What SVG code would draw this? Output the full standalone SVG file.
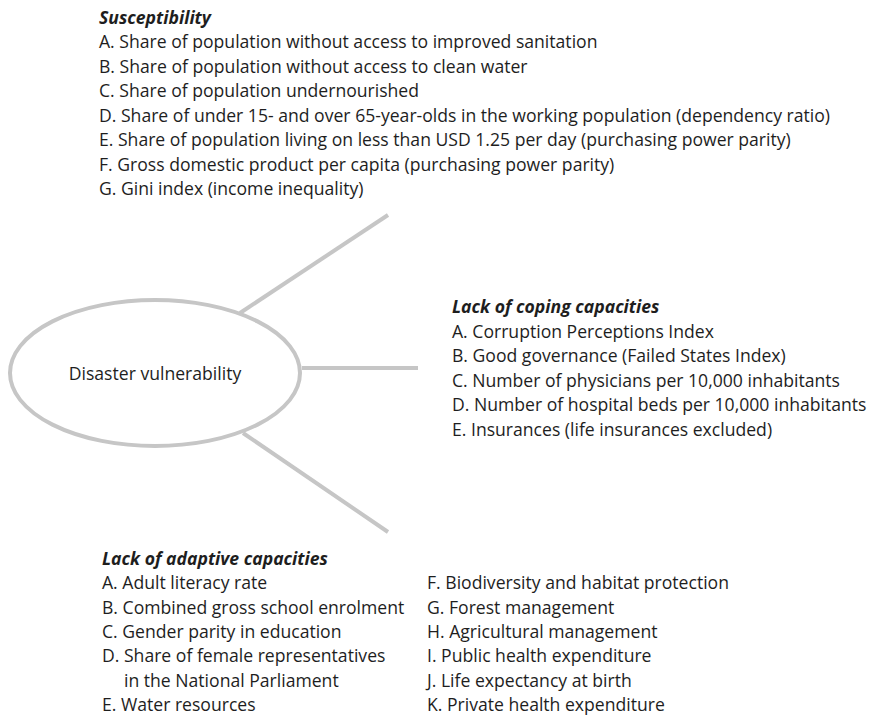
<svg xmlns="http://www.w3.org/2000/svg" width="870" height="716" viewBox="0 0 870 716">
<style>
text{font-family:"Open Sans","Liberation Sans",Arial,sans-serif;font-size:17.6px;fill:#1e1e1e}
.h{font-weight:bold;font-style:italic}
.c{stroke:#c6c6c6;stroke-width:4;fill:none;stroke-linecap:butt}
</style>
<rect width="870" height="716" fill="#fff"/>
<g id="connectors">
<line class="c" x1="240" y1="313" x2="388" y2="215"/>
<line class="c" x1="302" y1="368" x2="418" y2="368"/>
<line class="c" x1="243" y1="433" x2="388" y2="532"/>
</g>
<g id="disaster-vulnerability">
<ellipse class="c" cx="155" cy="373" rx="145" ry="73"/>
<text x="155" y="380" text-anchor="middle">Disaster vulnerability</text>
</g>
<g id="susceptibility">
<text class="h" x="99" y="24">Susceptibility</text>
<text x="99" y="48">A. Share of population without access to improved sanitation</text>
<text x="99" y="72.5">B. Share of population without access to clean water</text>
<text x="99" y="97">C. Share of population undernourished</text>
<text x="99" y="121.5">D. Share of under 15- and over 65-year-olds in the working population (dependency ratio)</text>
<text x="99" y="146">E. Share of population living on less than USD 1.25 per day (purchasing power parity)</text>
<text x="99" y="170.5">F. Gross domestic product per capita (purchasing power parity)</text>
<text x="99" y="195">G. Gini index (income inequality)</text>
</g>
<g id="coping">
<text class="h" x="452" y="313">Lack of coping capacities</text>
<text x="452" y="337.5">A. Corruption Perceptions Index</text>
<text x="452" y="362">B. Good governance (Failed States Index)</text>
<text x="452" y="386.5">C. Number of physicians per 10,000 inhabitants</text>
<text x="452" y="411">D. Number of hospital beds per 10,000 inhabitants</text>
<text x="452" y="435.5">E. Insurances (life insurances excluded)</text>
</g>
<g id="adaptive">
<text class="h" x="102" y="565">Lack of adaptive capacities</text>
<text x="102" y="589">A. Adult literacy rate</text>
<text x="102" y="613.5">B. Combined gross school enrolment</text>
<text x="102" y="638">C. Gender parity in education</text>
<text x="102" y="662">D. Share of female representatives</text>
<text x="124" y="686.5">in the National Parliament</text>
<text x="102" y="711">E. Water resources</text>
<text x="427" y="589">F. Biodiversity and habitat protection</text>
<text x="427" y="613.5">G. Forest management</text>
<text x="427" y="638">H. Agricultural management</text>
<text x="427" y="662">I. Public health expenditure</text>
<text x="427" y="686.5">J. Life expectancy at birth</text>
<text x="427" y="711">K. Private health expenditure</text>
</g>
</svg>
